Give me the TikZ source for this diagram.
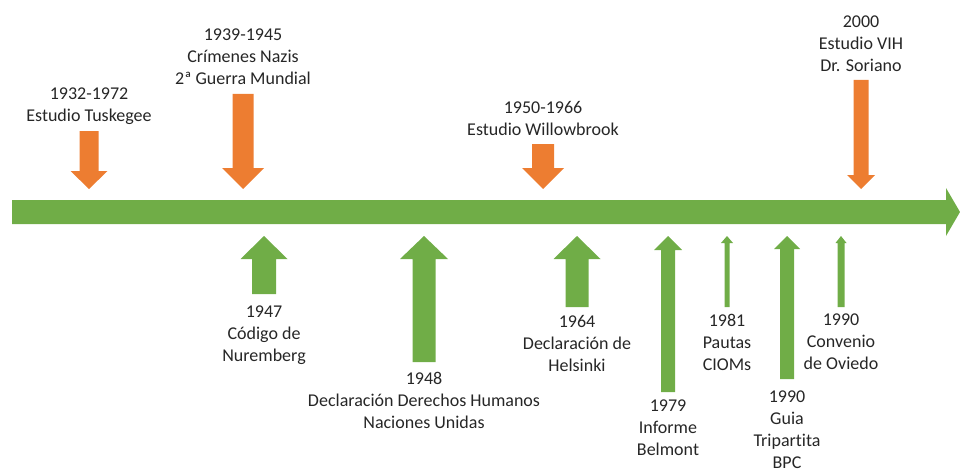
\documentclass[tikz,border=0pt]{standalone}
\usepackage{fontspec}
\setmainfont{Carlito}[Ligatures=NoCommon]
\usepackage{xcolor}
\usepackage{tikz}
\usetikzlibrary{positioning}

\definecolor{naranja}{HTML}{ED7D31}
\definecolor{verde}{HTML}{70AD47}

\tikzset{
	evento/.style={align=center,inner sep=0pt,text=black!85,font=\fontsize{18}{22}\selectfont},
	malo/.style={fill=naranja},
	bueno/.style={fill=verde}
}

\begin{document}
\begin{tikzpicture}[x=1pt,y=-1pt]
	\useasboundingbox (0,0) rectangle (960,468);
	% linea de tiempo
	\fill[bueno] (12,200)--(946,200)--(946,188)--(960,212)--(946,236)--(946,224)--(12,224)--cycle;
	% flechas hacia abajo: x, arriba, medio ancho cuerpo, medio ancho punta, inicio punta
	\foreach \x/\t/\s/\h/\p in {89/131/9.5/18.5/171, 243/94/10.5/21/168, 543/144/11/21/168, 861/80/7.5/14/175}
		\fill[malo] (\x-\s,\t)--(\x+\s,\t)--(\x+\s,\p)--(\x+\h,\p)--(\x,189)--(\x-\h,\p)--(\x-\s,\p)--cycle;
	% flechas hacia arriba: x, abajo, medio ancho cuerpo, medio ancho punta, fin punta
	\foreach \x/\b/\s/\h/\p in {264/294/12/23.5/259, 424/362/11.5/24/259, 577/307/11.5/23.5/259, 668/392/7/14/250, 727/307/2.5/6/243, 787/379/7/13/249, 841/307/3.5/5.5/243}
		\fill[bueno] (\x-\s,\b)--(\x+\s,\b)--(\x+\s,\p)--(\x+\h,\p)--(\x,236)--(\x-\h,\p)--(\x-\s,\p)--cycle;
	% textos
	\node[evento] (tuskegee) at (89,106) {1932-1972\\Estudio Tuskegee};
	\node[evento] (nazis) at (243,57) {1939-1945\\Crímenes Nazis\\2ª Guerra Mundial};
	\node[evento] (willowbrook) at (543,118) {1950-1966\\Estudio Willowbrook};
	\node[evento] (vih) at (861,44) {2000\\Estudio VIH\\Dr. Soriano};
	\node[evento] (nuremberg) at (264,335) {1947\\Código de\\Nuremberg};
	\node[evento] (onu) at (424,400) {1948\\Declaración Derechos Humanos\\Naciones Unidas};
	\node[evento] (helsinki) at (577,343) {1964\\Declaración de\\Helsinki};
	\node[evento] (belmont) at (668,428) {1979\\Informe\\Belmont};
	\node[evento] (cioms) at (727,342) {1981\\Pautas\\CIOMs};
	\node[evento] (bpc) at (787,430) {1990\\Guia\\Tripartita\\BPC};
	\node[evento] (oviedo) at (841,342) {1990\\Convenio\\de Oviedo};
\end{tikzpicture}
\end{document}
